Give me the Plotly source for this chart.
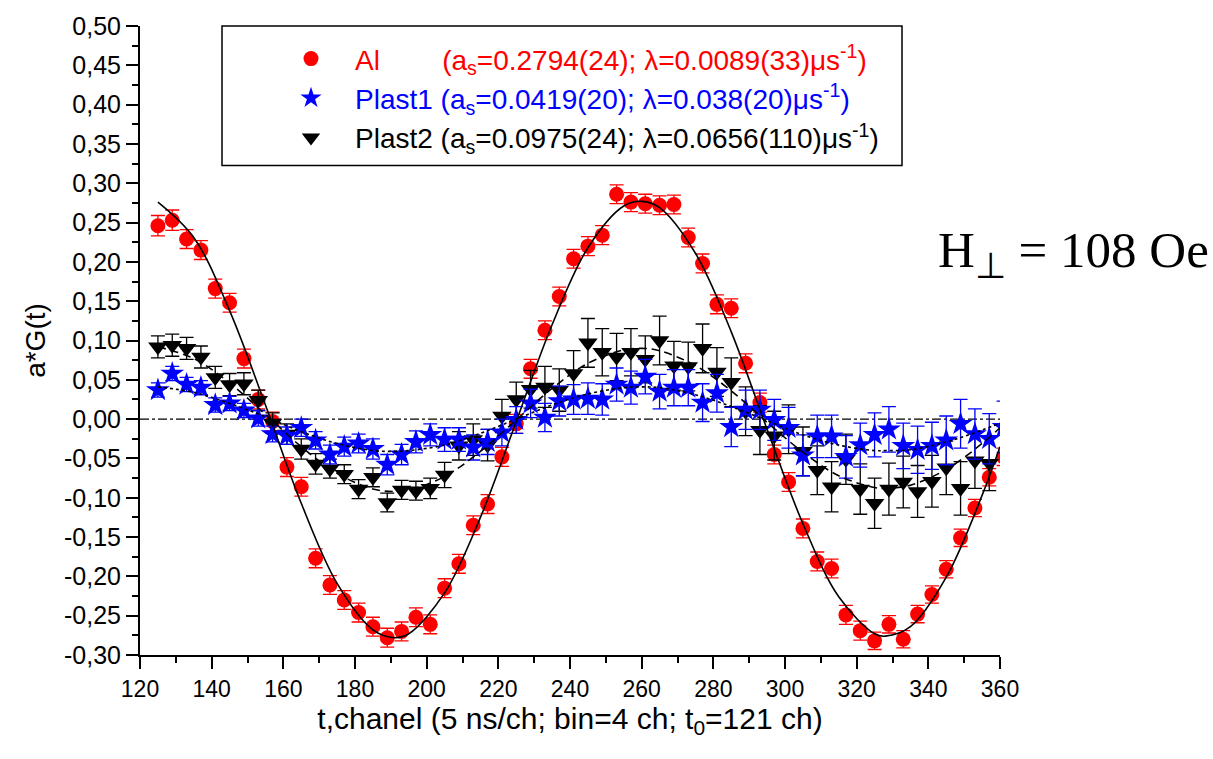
import plotly.graph_objects as go

# ---------------- data ----------------
channels = [125, 129, 133, 137, 141, 145, 149, 153, 157, 161, 165, 169, 173, 177, 181,
            185, 189, 193, 197, 201, 205, 209, 213, 217, 221, 225, 229, 233, 237, 241,
            245, 249, 253, 257, 261, 265, 269, 273, 277, 281, 285, 289, 293, 297, 301,
            305, 309, 313, 317, 321, 325, 329, 333, 337, 341, 345, 349, 353, 357]
edge_channels = [361]

al_values = [0.246, 0.253, 0.229, 0.215, 0.166, 0.148, 0.077, 0.025, -0.003, -0.061,
             -0.086, -0.177, -0.211, -0.230, -0.246, -0.264, -0.278, -0.270, -0.252, -0.261,
             -0.215, -0.184, -0.135, -0.108, -0.048, -0.006, 0.064, 0.113, 0.156, 0.204,
             0.220, 0.234, 0.286, 0.276, 0.274, 0.272, 0.273, 0.231, 0.198, 0.146,
             0.141, 0.071, 0.021, -0.045, -0.080, -0.139, -0.181, -0.190, -0.249, -0.269,
             -0.282, -0.261, -0.280, -0.248, -0.223, -0.191, -0.151, -0.113, -0.074]
al_edge_values = [-0.048]
al_errors = [0.013, 0.013, 0.012, 0.012, 0.012, 0.012, 0.012, 0.012, 0.012, 0.012,
             0.012, 0.012, 0.012, 0.012, 0.012, 0.012, 0.012, 0.012, 0.012, 0.012,
             0.012, 0.012, 0.012, 0.012, 0.012, 0.012, 0.012, 0.012, 0.012, 0.012,
             0.012, 0.012, 0.012, 0.012, 0.012, 0.012, 0.012, 0.012, 0.012, 0.012,
             0.012, 0.012, 0.012, 0.012, 0.012, 0.012, 0.012, 0.012, 0.012, 0.012,
             0.011, 0.011, 0.011, 0.011, 0.011, 0.011, 0.011, 0.011, 0.011]
al_edge_errors = [0.011]

plast1_values = [0.037, 0.058, 0.044, 0.040, 0.018, 0.020, 0.011, 0.001, -0.019, -0.021,
                 -0.011, -0.027, -0.045, -0.035, -0.031, -0.038, -0.058, -0.045, -0.029, -0.020,
                 -0.026, -0.026, -0.036, -0.029, -0.017, -0.001, 0.020, 0.002, 0.023, 0.025,
                 0.026, 0.025, 0.044, 0.040, 0.054, 0.035, 0.040, 0.040, 0.021, 0.033,
                 -0.010, 0.012, 0.012, -0.001, -0.011, -0.046, -0.022, -0.022, -0.048, -0.033,
                 -0.020, -0.013, -0.034, -0.039, -0.034, -0.027, -0.006, -0.019, -0.025]
plast1_edge_values = [-0.010]
plast1_errors = [0.009, 0.009, 0.009, 0.009, 0.009, 0.009, 0.009, 0.010, 0.010,
                 0.011, 0.011, 0.011, 0.012, 0.012, 0.012, 0.013, 0.013,
                 0.013, 0.014, 0.014, 0.015, 0.015, 0.016, 0.016, 0.017,
                 0.017, 0.018, 0.018, 0.019, 0.019, 0.020, 0.020, 0.021,
                 0.021, 0.022, 0.022, 0.023, 0.023, 0.024, 0.024, 0.025,
                 0.025, 0.025, 0.026, 0.026, 0.026, 0.027, 0.027, 0.027,
                 0.028, 0.028, 0.029, 0.029, 0.030, 0.030, 0.031, 0.031, 0.032, 0.032]
plast1_edge_errors = [0.033]

plast2_values = [0.092, 0.094, 0.090, 0.079, 0.053, 0.044, 0.045, 0.024, -0.005, -0.019,
                 -0.038, -0.057, -0.063, -0.070, -0.089, -0.074, -0.106, -0.090, -0.091, -0.088,
                 -0.071, -0.034, -0.026, -0.033, 0.004, 0.025, 0.038, 0.041, 0.037, 0.058,
                 0.097, 0.085, 0.079, 0.085, 0.076, 0.100, 0.068, 0.067, 0.090, 0.060,
                 0.047, 0.010, -0.014, -0.021, -0.013, -0.041, -0.065, -0.086, -0.051, -0.089,
                 -0.107, -0.089, -0.080, -0.092, -0.079, -0.062, -0.088, -0.053, -0.056]
plast2_errors = [0.014, 0.014, 0.014, 0.014, 0.014, 0.014, 0.014, 0.013, 0.013,
                 0.013, 0.013, 0.013, 0.012, 0.012, 0.012, 0.012, 0.012,
                 0.012, 0.012, 0.013, 0.016, 0.018, 0.020, 0.020, 0.021,
                 0.022, 0.024, 0.026, 0.027, 0.029, 0.031, 0.030, 0.030,
                 0.030, 0.030, 0.031, 0.031, 0.031, 0.031, 0.031, 0.031,
                 0.031, 0.031, 0.031, 0.031, 0.031, 0.031, 0.032, 0.032,
                 0.032, 0.032, 0.033, 0.033, 0.033, 0.033, 0.034, 0.034, 0.035, 0.035]

# fitted curves
fit_channels = [125, 135, 145, 155, 165, 175, 185, 191, 195, 205, 215, 225, 235, 245,
                255, 260, 265, 275, 285, 295, 305, 315, 325, 328, 335, 345, 355, 360]
al_fit = [0.276, 0.231, 0.138, 0.018, -0.107, -0.209, -0.268, -0.278, -0.273, -0.221,
          -0.125, -0.003, 0.120, 0.218, 0.271, 0.277, 0.269, 0.211, 0.111, -0.013,
          -0.133, -0.226, -0.273, -0.276, -0.264, -0.201, -0.097, -0.035]
plast1_fit = [0.041, 0.034, 0.020, 0.003, -0.016, -0.031, -0.040, -0.041, -0.040, -0.033,
              -0.018, 0.000, 0.018, 0.032, 0.040, 0.041, 0.040, 0.031, 0.016, -0.002,
              -0.020, -0.033, -0.040, -0.040, -0.039, -0.029, -0.014, -0.005]
plast2_fit = [0.092, 0.077, 0.046, 0.006, -0.035, -0.069, -0.089, -0.092, -0.090, -0.073,
              -0.041, -0.001, 0.039, 0.071, 0.088, 0.090, 0.087, 0.068, 0.036, -0.004,
              -0.042, -0.072, -0.087, -0.088, -0.084, -0.064, -0.031, -0.011]

x_ticks = [120, 140, 160, 180, 200, 220, 240, 260, 280, 300, 320, 340, 360]
x_ticklabels = ["120", "140", "160", "180", "200", "220", "240", "260", "280", "300",
                "320", "340", "360"]
y_ticks = [-0.30, -0.25, -0.20, -0.15, -0.10, -0.05, 0.00, 0.05, 0.10, 0.15, 0.20,
           0.25, 0.30, 0.35, 0.40, 0.45, 0.50]
y_ticklabels = ["-0,30", "-0,25", "-0,20", "-0,15", "-0,10", "-0,05", "0,00", "0,05",
                "0,10", "0,15", "0,20", "0,25", "0,30", "0,35", "0,40", "0,45", "0,50"]

name_al = ('<span style="color:#ff0000">Al' + '\u00a0' * 8 +
           '(a<sub>s</sub>=0.2794(24); λ=0.0089(33)μs<sup>-1</sup>)</span>')
name_p1 = ('<span style="color:#0000ff">Plast1 (a<sub>s</sub>=0.0419(20); '
           'λ=0.038(20)μs<sup>-1</sup>)</span>')
name_p2 = ('<span style="color:#000000">Plast2 (a<sub>s</sub>=0.0975(24); '
           'λ=0.0656(110)μs<sup>-1</sup>)</span>')

RED = "#ff0000"
BLUE = "#0000ff"
BLACK = "#000000"

fig = go.Figure()

fig.add_trace(go.Scatter(
    x=channels + edge_channels, y=al_values + al_edge_values, mode="markers",
    name=name_al, legendgroup="al", legendrank=1,
    marker=dict(symbol="circle", size=15, color=RED),
    error_y=dict(type="data", array=al_errors + al_edge_errors, visible=True,
                 color=RED, thickness=1.3, width=7),
))
fig.add_trace(go.Scatter(
    x=channels, y=plast2_values, mode="markers",
    name=name_p2, legendgroup="p2", legendrank=3,
    marker=dict(symbol="triangle-down", size=17, color=BLACK),
    error_y=dict(type="data", array=plast2_errors, visible=True,
                 color=BLACK, thickness=1.3, width=7),
))
fig.add_trace(go.Scatter(
    x=channels + edge_channels, y=plast1_values + plast1_edge_values, mode="markers",
    name=name_p1, legendgroup="p1", legendrank=2,
    marker=dict(symbol="star", size=18, color=BLUE),
    error_y=dict(type="data", array=plast1_errors + plast1_edge_errors, visible=True,
                 color=BLUE, thickness=1.3, width=7),
))

fig.add_trace(go.Scatter(x=fit_channels, y=al_fit, mode="lines", showlegend=False,
                         line=dict(color=BLACK, width=1.6, shape="spline")))
fig.add_trace(go.Scatter(x=fit_channels, y=plast1_fit, mode="lines", showlegend=False,
                         line=dict(color=BLACK, width=1.6, dash="dot", shape="spline")))
fig.add_trace(go.Scatter(x=fit_channels, y=plast2_fit, mode="lines", showlegend=False,
                         line=dict(color=BLACK, width=1.6, dash="8px,5px", shape="spline")))

# zero reference line
fig.add_shape(type="line", xref="paper", x0=0, x1=1, yref="y", y0=0, y1=0,
              line=dict(color=BLACK, width=1.3, dash="dashdot"), layer="below")

# legend frame
fig.add_shape(type="rect", xref="paper", yref="paper",
              x0=(222 - 140) / 860, x1=(902 - 140) / 860,
              y0=(655 - 160) / 636, y1=(655 - 19) / 636,
              line=dict(color=BLACK, width=1.5), fillcolor="white", layer="above")

fig.add_annotation(
    text="H<sub>⊥</sub> = 108 Oe", xref="paper", yref="paper",
    x=(936 - 140) / 860, y=(655 - 250) / 636, xanchor="left", yanchor="middle",
    showarrow=False, font=dict(family="Liberation Serif, Times New Roman", size=51, color=BLACK),
)

fig.update_layout(
    width=1213, height=759,
    margin=dict(l=140, r=213, t=19, b=104),
    paper_bgcolor="white", plot_bgcolor="white",
    font=dict(family="Liberation Sans, Arial", color=BLACK, size=22),
    showlegend=True,
    legend=dict(
        x=(267 - 140) / 860, y=(655 - 27) / 636, xanchor="left", yanchor="top",
        bgcolor="rgba(0,0,0,0)", borderwidth=0, itemwidth=78,
        font=dict(size=28, family="Liberation Sans, Arial"),
        tracegroupgap=3, traceorder="normal",
    ),
    xaxis=dict(
        range=[120, 360], tickmode="array", tickvals=x_ticks, ticktext=x_ticklabels,
        ticks="outside", ticklen=12, tickwidth=2, tickcolor=BLACK,
        showline=True, linewidth=2, linecolor=BLACK, mirror=False,
        showgrid=False, zeroline=False,
        minor=dict(dtick=10, tick0=120, ticks="outside", ticklen=6, tickwidth=2,
                   tickcolor=BLACK, showgrid=False),
        tickfont=dict(size=23),
        title=dict(text="t,chanel (5 ns/ch; bin=4 ch; t<sub>0</sub>=121 ch)",
                   font=dict(size=30), standoff=6),
    ),
    yaxis=dict(
        range=[-0.30, 0.50], tickmode="array", tickvals=y_ticks, ticktext=y_ticklabels,
        ticks="outside", ticklen=12, tickwidth=2, tickcolor=BLACK,
        showline=True, linewidth=2, linecolor=BLACK, mirror=False,
        showgrid=False, zeroline=False,
        minor=dict(dtick=0.025, tick0=0, ticks="outside", ticklen=6, tickwidth=2,
                   tickcolor=BLACK, showgrid=False),
        tickfont=dict(size=25),
        title=dict(text="a*G(t)", font=dict(size=28), standoff=10),
    ),
)

fig.write_html("out.html")
